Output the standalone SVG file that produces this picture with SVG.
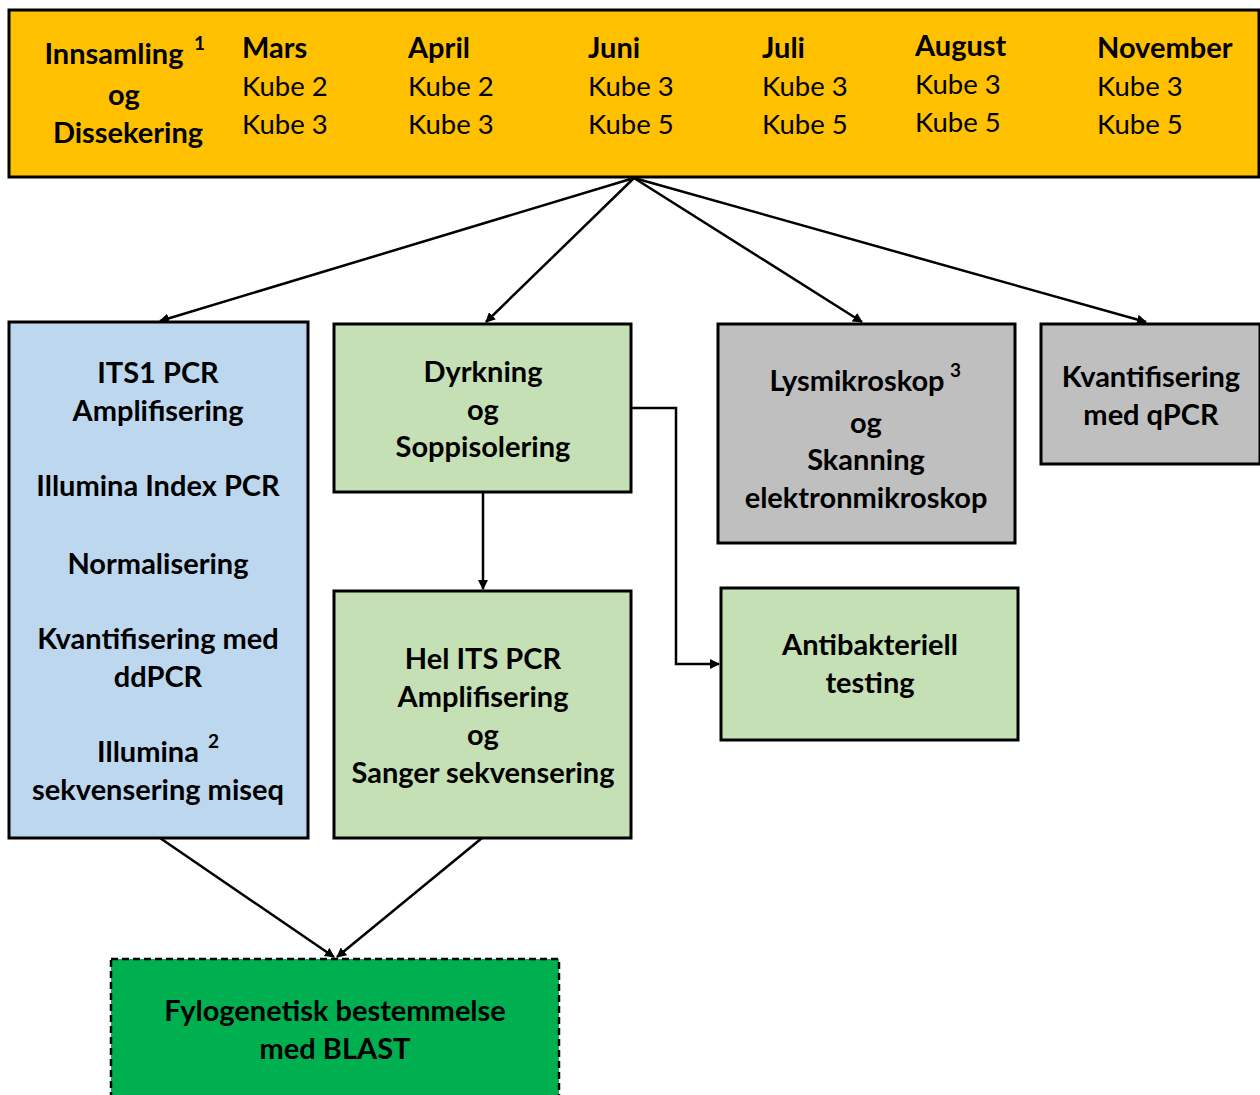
<svg xmlns="http://www.w3.org/2000/svg" width="1260" height="1095" viewBox="0 0 1260 1095">
<style>
text{font-family:Lato,"Open Sans","DejaVu Sans",sans-serif;fill:#000;font-size:27.5px}
.b{font-weight:bold;font-size:29px}
.c{text-anchor:middle}
.sup{font-size:19px;font-weight:bold}
.box{stroke:#000;stroke-width:3}
.ln{stroke:#000;stroke-width:2.5;fill:none}
</style>
<defs>
<marker id="ah" viewBox="0 0 10 10" refX="9" refY="5" markerWidth="4" markerHeight="4" orient="auto" markerUnits="strokeWidth">
<path d="M0,0 L10,5 L0,10 z" fill="#000"/>
</marker>
</defs>
<rect width="1260" height="1095" fill="#fff"/>
<g id="connectors">
<line class="ln" x1="634" y1="178" x2="160" y2="321" marker-end="url(#ah)"/>
<line class="ln" x1="634" y1="178" x2="486" y2="322" marker-end="url(#ah)"/>
<line class="ln" x1="634" y1="178" x2="862" y2="322" marker-end="url(#ah)"/>
<line class="ln" x1="634" y1="178" x2="1146" y2="322" marker-end="url(#ah)"/>
<line class="ln" x1="483" y1="492" x2="483" y2="589" marker-end="url(#ah)"/>
<polyline class="ln" points="631,408 676,408 676,664 719,664" marker-end="url(#ah)"/>
<line class="ln" x1="160" y1="838" x2="334" y2="957" marker-end="url(#ah)"/>
<line class="ln" x1="482" y1="838" x2="337" y2="957" marker-end="url(#ah)"/>
</g>
<g id="top">
<rect class="box" x="9" y="10" width="1250" height="167" fill="#FFC000"/>
<text class="b c" x="114" y="64">Innsamling</text>
<text class="sup" x="194" y="50">1</text>
<text class="b c" x="124" y="105">og</text>
<text class="b c" x="128" y="143">Dissekering</text>
<text class="b" x="242" y="58">Mars</text>
<text x="242" y="96">Kube 2</text>
<text x="242" y="134">Kube 3</text>
<text class="b" x="408" y="58">April</text>
<text x="408" y="96">Kube 2</text>
<text x="408" y="134">Kube 3</text>
<text class="b" x="588" y="58">Juni</text>
<text x="588" y="96">Kube 3</text>
<text x="588" y="134">Kube 5</text>
<text class="b" x="762" y="58">Juli</text>
<text x="762" y="96">Kube 3</text>
<text x="762" y="134">Kube 5</text>
<text class="b" x="915" y="56">August</text>
<text x="915" y="94">Kube 3</text>
<text x="915" y="132">Kube 5</text>
<text class="b" x="1097" y="58">November</text>
<text x="1097" y="96">Kube 3</text>
<text x="1097" y="134">Kube 5</text>
</g>
<g id="illumina">
<rect class="box" x="9" y="322" width="299" height="516" fill="#BDD7EE"/>
<text class="b c" x="158" y="383">ITS1 PCR</text>
<text class="b c" x="158" y="421">Amplifisering</text>
<text class="b c" x="158" y="496">Illumina Index PCR</text>
<text class="b c" x="158" y="574">Normalisering</text>
<text class="b c" x="158" y="649">Kvantifisering med</text>
<text class="b c" x="158" y="687">ddPCR</text>
<text class="b c" x="148" y="762">Illumina</text>
<text class="sup" x="208" y="748">2</text>
<text class="b c" x="158" y="800">sekvensering miseq</text>
</g>
<g id="dyrkning">
<rect class="box" x="334" y="324" width="297" height="168" fill="#C5E0B4"/>
<text class="b c" x="483" y="382">Dyrkning</text>
<text class="b c" x="483" y="420">og</text>
<text class="b c" x="483" y="457">Soppisolering</text>
</g>
<g id="mikroskop">
<rect class="box" x="718" y="324" width="297" height="219" fill="#BFBFBF"/>
<text class="b c" x="857" y="391">Lysmikroskop</text>
<text class="sup" x="950" y="377">3</text>
<text class="b c" x="866" y="433">og</text>
<text class="b c" x="866" y="470">Skanning</text>
<text class="b c" x="866" y="508">elektronmikroskop</text>
</g>
<g id="qpcr">
<rect class="box" x="1041" y="324" width="219" height="140" fill="#BFBFBF"/>
<text class="b c" x="1151" y="387">Kvantifisering</text>
<text class="b c" x="1151" y="425">med qPCR</text>
</g>
<g id="sanger">
<rect class="box" x="334" y="591" width="297" height="247" fill="#C5E0B4"/>
<text class="b c" x="483" y="669">Hel ITS PCR</text>
<text class="b c" x="483" y="707">Amplifisering</text>
<text class="b c" x="483" y="745">og</text>
<text class="b c" x="483" y="783">Sanger sekvensering</text>
</g>
<g id="antibakteriell">
<rect class="box" x="721" y="588" width="297" height="152" fill="#C5E0B4"/>
<text class="b c" x="870" y="655">Antibakteriell</text>
<text class="b c" x="870" y="693">testing</text>
</g>
<g id="blast">
<rect x="111" y="959" width="448" height="150" fill="#00B050" stroke="#000" stroke-width="2.5" stroke-dasharray="7,4"/>
<text class="b c" x="335" y="1021">Fylogenetisk bestemmelse</text>
<text class="b c" x="335" y="1059">med BLAST</text>
</g>
</svg>
